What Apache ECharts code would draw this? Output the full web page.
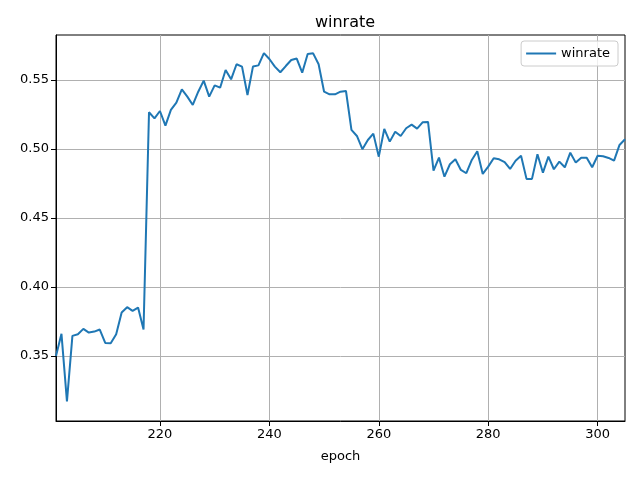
<!DOCTYPE html>
<html>
<head>
<meta charset="utf-8">
<script src="https://cdn.jsdelivr.net/npm/echarts@6/dist/echarts.min.js"></script>
<style>
html,body{margin:0;padding:0;background:#fff;}
#chart{width:640px;height:478px;}
</style>
</head>
<body>
<div id="chart"></div>
<script>
var epochs = [201,202,203,204,205,206,207,208,209,210,211,212,213,214,215,216,217,218,219,220,
221,222,223,224,225,226,227,228,229,230,231,232,233,234,235,236,237,238,239,240,
241,242,243,244,245,246,247,248,249,250,251,252,253,254,255,256,257,258,259,260,
261,262,263,264,265,266,267,268,269,270,271,272,273,274,275,276,277,278,279,280,
281,282,283,284,285,286,287,288,289,290,291,292,293,294,295,296,297,298,299,300,
301,302,303,304,305];
var winrate = [0.350,0.366,0.317,0.3645,0.3657,0.3696,0.3669,0.3676,0.3691,0.3594,
0.3592,0.3657,0.3814,0.3853,0.3826,0.385,0.3691,0.5266,0.5222,0.5275,
0.5169,0.5283,0.5336,0.5432,0.5379,0.5319,0.5415,0.5495,0.5379,0.5461,
0.5444,0.5572,0.5505,0.5614,0.5597,0.5391,0.5597,0.5606,0.5695,0.5652,
0.5597,0.5556,0.5601,0.5645,0.5655,0.5553,0.5688,0.5693,0.5614,0.5415,
0.5396,0.5396,0.5415,0.542,0.5138,0.5094,0.4998,0.5065,0.5111,0.4944,
0.5145,0.5053,0.5125,0.5094,0.515,0.5176,0.5147,0.5193,0.5196,0.4843,
0.4937,0.4799,0.4889,0.4925,0.4848,0.4824,0.492,0.4983,0.4819,0.4872,
0.4933,0.4925,0.4905,0.4855,0.4915,0.4951,0.4783,0.4783,0.4961,0.4828,
0.4944,0.4853,0.4908,0.4867,0.4973,0.4901,0.4937,0.4937,0.4867,0.4951,
0.4947,0.4935,0.4915,0.5029,0.507];
var xTicks = [220,240,260,280,300];
var yTicks = [0.35,0.40,0.45,0.50,0.55];

var font = 'DejaVu Sans';
var chart = echarts.init(document.getElementById('chart'), null, {renderer:'canvas'});
var seriesData = epochs.map(function(e,i){return [e, winrate[i]];});
chart.setOption({
  animation:false,
  backgroundColor:'#ffffff',
  title:{text:'winrate', left:340, top:10, textAlign:'center',
    textStyle:{fontFamily:font, fontSize:16, fontWeight:'normal', color:'#000'}},
  legend:{right:22, top:41, orient:'vertical', data:['winrate'],
    icon:'rect', itemWidth:30, itemHeight:2, itemGap:8,
    padding:[6,8,6,5], borderColor:'#cccccc', borderWidth:1, borderRadius:3,
    backgroundColor:'rgba(255,255,255,0.8)',
    textStyle:{fontFamily:font, fontSize:13, color:'#000'}},
  grid:{left:56, right:15, top:35, bottom:57, show:true, borderColor:'#000', borderWidth:1, backgroundColor:'transparent'},
  xAxis:{type:'value', min:201, max:305,
    name:'epoch', nameLocation:'middle', nameGap:29,
    nameTextStyle:{fontFamily:font, fontSize:13, color:'#000'},
    axisLine:{show:true, lineStyle:{color:'#000', width:1}},
    axisTick:{show:true, inside:false, length:5, lineStyle:{color:'#000'}, customValues:xTicks},
    axisLabel:{fontFamily:font, fontSize:13, color:'#000', margin:7, customValues:xTicks},
    splitLine:{show:true, lineStyle:{color:'#b0b0b0', width:1}}},
  yAxis:{type:'value', min:0.3028, max:0.5826,
    axisLine:{show:true, lineStyle:{color:'#000', width:1}},
    axisTick:{show:true, inside:false, length:5, lineStyle:{color:'#000'}, customValues:yTicks},
    axisLabel:{fontFamily:font, fontSize:13, color:'#000', margin:7, customValues:yTicks,
      formatter:function(v){return v.toFixed(2);}},
    splitLine:{show:true, lineStyle:{color:'#b0b0b0', width:1}}},
  series:[{name:'winrate', type:'line', data:seriesData, showSymbol:false, symbol:'none',
    lineStyle:{color:'#1f77b4', width:2}, itemStyle:{color:'#1f77b4'}, z:3}]
});
</script>
</body>
</html>
